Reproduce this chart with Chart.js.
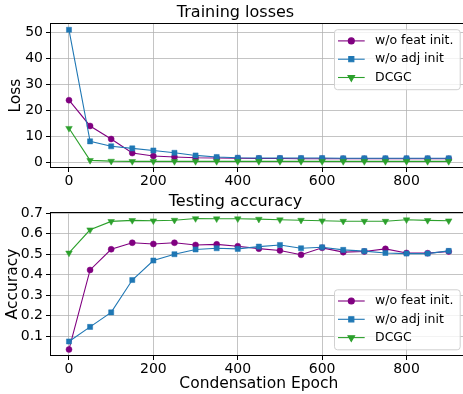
<!DOCTYPE html>
<html>
<head>
<meta charset="utf-8">
<script src="https://cdn.jsdelivr.net/npm/chart.js@4/dist/chart.umd.min.js"></script>
<style>
  html, body { margin: 0; padding: 0; background: #fff; }
  body { width: 463px; height: 394px; overflow: hidden; position: relative; }
  .plot { position: absolute; left: 0; }
</style>
</head>
<body>
<div class="plot" style="top:0"><canvas id="loss-chart" width="472" height="190"></canvas></div>
<div class="plot" style="top:190px"><canvas id="acc-chart" width="472" height="204"></canvas></div>
<script>
// epochs where the model was evaluated
const epochs = [0, 50, 100, 150, 200, 250, 300, 350, 400, 450, 500, 550, 600, 650, 700, 750, 800, 850, 900];
const xTicks = [0, 200, 400, 600, 800];

const seriesNames = ['w/o feat init.', 'w/o adj init', 'DCGC'];

// training losses
const lossFeat = [24.0, 14.1, 9.1, 3.7, 2.6, 2.2, 1.9, 1.8, 1.7, 1.6, 1.6, 1.5, 1.5, 1.5, 1.5, 1.5, 1.5, 1.5, 1.5];
const lossAdj = [51.0, 8.2, 6.3, 5.5, 4.7, 3.8, 2.8, 2.2, 1.9, 1.8, 1.8, 1.8, 1.8, 1.7, 1.7, 1.7, 1.7, 1.7, 1.7];
const lossDCGC = [13.2, 0.9, 0.6, 0.5, 0.5, 0.5, 0.5, 0.5, 0.5, 0.5, 0.5, 0.5, 0.5, 0.5, 0.5, 0.5, 0.5, 0.5, 0.5];
const lossTicks = [0, 10, 20, 30, 40, 50];

// testing accuracy
const accFeat = [0.035, 0.423, 0.524, 0.556, 0.550, 0.556, 0.545, 0.548, 0.539, 0.527, 0.518, 0.497, 0.531, 0.510, 0.513, 0.526, 0.506, 0.505, 0.513];
const accAdj = [0.074, 0.145, 0.216, 0.374, 0.469, 0.500, 0.523, 0.529, 0.526, 0.537, 0.545, 0.529, 0.534, 0.521, 0.515, 0.506, 0.503, 0.503, 0.516];
const accDCGC = [0.506, 0.619, 0.660, 0.665, 0.663, 0.666, 0.674, 0.673, 0.673, 0.671, 0.668, 0.666, 0.663, 0.661, 0.661, 0.661, 0.668, 0.665, 0.663];
const accTicks = [0.1, 0.2, 0.3, 0.4, 0.5, 0.6, 0.7];

const colors = ['#800080', '#1f77b4', '#2ca02c'];
const markers = [
  { pointStyle: 'circle', radius: 3, rotation: 0 },
  { pointStyle: 'rect', radius: 3.6, rotation: 0 },
  { pointStyle: 'triangle', radius: 3.8, rotation: 180 }
];

Chart.defaults.font.family = "'DejaVu Sans', sans-serif";
Chart.defaults.color = '#000';

// matplotlib-like padding of 5% around the data
function padRange(arrs) {
  const all = [].concat(...arrs);
  const lo = Math.min(...all), hi = Math.max(...all);
  const m = (hi - lo) * 0.05;
  return [lo - m, hi + m];
}

function makeDatasets(arrs) {
  return arrs.map((arr, i) => ({
    label: seriesNames[i],
    data: epochs.map((e, j) => ({ x: e, y: arr[j] })),
    borderColor: colors[i],
    backgroundColor: colors[i],
    borderWidth: 1.1,
    pointStyle: markers[i].pointStyle,
    pointRadius: markers[i].radius,
    pointRotation: markers[i].rotation,
    pointBorderWidth: 0.5,
    pointHoverRadius: markers[i].radius,
    order: 3 - i,
    tension: 0
  }));
}

// frame around the axes + legend box inside
const framePlugin = {
  id: 'frame',
  afterDatasetsDraw(chart) {
    const { ctx, chartArea: a } = chart;
    ctx.save();
    ctx.strokeStyle = '#000';
    ctx.lineWidth = 1;
    ctx.strokeRect(Math.round(a.left) + 0.5, Math.round(a.top) + 0.5,
      Math.round(a.right - a.left), Math.round(a.bottom - a.top) - 1);
    ctx.restore();
  },
  afterDraw(chart, args, opts) {
    const { ctx, chartArea: a } = chart;
    const w = 125.7, h = 60;
    const x = a.right - 8 - w;
    const y = opts.where === 'lower' ? a.bottom - 6.7 - h : a.top + 6;
    ctx.save();
    ctx.beginPath();
    ctx.roundRect(x + 0.5, y + 0.5, w, h, 3);
    ctx.fillStyle = 'rgba(255,255,255,0.8)';
    ctx.fill();
    ctx.strokeStyle = '#d0d0d0';
    ctx.lineWidth = 1;
    ctx.stroke();
    chart.data.datasets.forEach((ds, i) => {
      const ey = y + 11.7 + i * 18.3;
      ctx.strokeStyle = ds.borderColor;
      ctx.lineWidth = 1.1;
      ctx.beginPath();
      ctx.moveTo(x + 4, ey);
      ctx.lineTo(x + 30.7, ey);
      ctx.stroke();
      ctx.fillStyle = ds.backgroundColor;
      Chart.helpers.drawPoint(ctx, {
        pointStyle: ds.pointStyle, radius: ds.pointRadius,
        rotation: ds.pointRotation, borderWidth: 0.5
      }, x + 17.3, ey);
      ctx.fillStyle = '#000';
      ctx.font = "12.5px 'DejaVu Sans', sans-serif";
      ctx.textBaseline = 'middle';
      ctx.textAlign = 'left';
      ctx.fillText(ds.label, x + 41, ey);
    });
    ctx.restore();
  }
};

function makeChart(id, arrs, yTicks, opt) {
  const yr = padRange(arrs);
  return new Chart(document.getElementById(id), {
    type: 'line',
    data: { datasets: makeDatasets(arrs) },
    plugins: [framePlugin],
    options: {
      responsive: false,
      animation: false,
      events: [],
      layout: { padding: { left: 0, right: 1, top: 0, bottom: 0 } },
      plugins: {
        legend: { display: false },
        tooltip: { enabled: false },
        frame: { where: opt.legendAt },
        title: {
          display: true,
          text: opt.title,
          color: '#000',
          font: { size: 16, weight: 'normal' },
          padding: opt.titlePad
        }
      },
      scales: {
        x: {
          type: 'linear',
          min: -45,
          max: 945,
          afterFit(s) { s.height = opt.xHeight; },
          afterBuildTicks(s) { s.ticks = xTicks.map(v => ({ value: v })); },
          grid: { color: 'rgba(176,176,176,0.75)', lineWidth: 1, tickColor: '#000', tickLength: 4 },
          border: { display: false },
          ticks: { font: { size: 14 }, color: '#000', padding: 1, maxRotation: 0 },
          title: opt.xTitle ? {
            display: true, text: opt.xTitle, color: '#000',
            font: { size: 15.5 }, padding: { top: 0, bottom: 0.4 }
          } : { display: false }
        },
        y: {
          type: 'linear',
          min: yr[0],
          max: yr[1],
          afterFit(s) { s.width = 50; },
          afterBuildTicks(s) { s.ticks = yTicks.map(v => ({ value: v })); },
          grid: { color: 'rgba(176,176,176,0.75)', lineWidth: 1, tickColor: '#000', tickLength: 4 },
          border: { display: false },
          ticks: {
            font: { size: 14 }, color: '#000', padding: 3,
            callback: v => opt.yFmt(v)
          },
          title: {
            display: true, text: opt.yTitle, color: '#000',
            font: { size: 15.5 }, padding: { top: opt.yTitlePad, bottom: 0 }
          }
        }
      }
    }
  });
}

makeChart('loss-chart', [lossFeat, lossAdj, lossDCGC], lossTicks, {
  title: 'Training losses',
  titlePad: { top: 3, bottom: 1 },
  xHeight: 22,
  yTitle: 'Loss',
  yTitlePad: 6.5,
  yFmt: v => String(v),
  legendAt: 'upper'
});

makeChart('acc-chart', [accFeat, accAdj, accDCGC], accTicks, {
  title: 'Testing accuracy',
  titlePad: { top: 2, bottom: 0.8 },
  xHeight: 38,
  xTitle: 'Condensation Epoch',
  yTitle: 'Accuracy',
  yTitlePad: 4,
  yFmt: v => v.toFixed(1),
  legendAt: 'lower'
});
</script>
</body>
</html>
